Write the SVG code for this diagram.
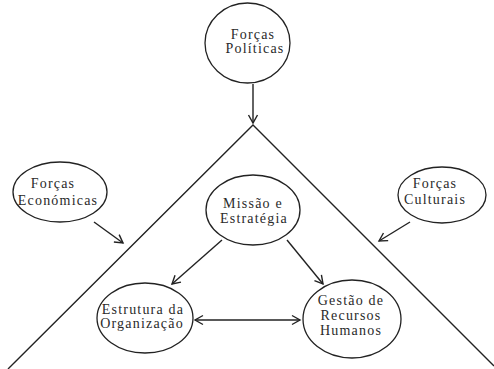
<svg xmlns="http://www.w3.org/2000/svg" width="494" height="369" viewBox="0 0 494 369">
<defs>
<style>
.n{fill:#fff;stroke:#222;stroke-width:1.3}
.t{font-family:"Liberation Serif","Times New Roman",serif;font-size:14px;letter-spacing:1.2px;fill:#2a2a2a;text-anchor:middle}
.c{stroke:#222;stroke-width:1.4;fill:none}
</style>
<marker id="a" markerUnits="userSpaceOnUse" markerWidth="12" markerHeight="12" refX="9" refY="5" orient="auto-start-reverse" viewBox="0 0 12 10">
<path d="M1,0.5 L9,5 L1,9.5" fill="none" stroke="#222" stroke-width="1.4"/>
</marker>
</defs>
<rect width="494" height="369" fill="#fff"/>
<g id="frame"><path class="c" d="M8,369 L253,125 L494,366"/></g>
<g id="connectors">
<line class="c" x1="253" y1="84" x2="253" y2="123" marker-end="url(#a)"/>
<line class="c" x1="94" y1="222" x2="123" y2="243" marker-end="url(#a)"/>
<line class="c" x1="410" y1="222" x2="379" y2="241" marker-end="url(#a)"/>
<line class="c" x1="222" y1="240" x2="172" y2="284" marker-end="url(#a)"/>
<line class="c" x1="287" y1="240" x2="323" y2="284" marker-end="url(#a)"/>
<line class="c" x1="195" y1="320" x2="300" y2="320" marker-start="url(#a)" marker-end="url(#a)"/>
</g>
<g id="politicas"><ellipse class="n" cx="247.5" cy="43" rx="42.5" ry="40"/>
<text class="t"><tspan x="253" y="39">Forças</tspan><tspan x="255" y="53">Políticas</tspan></text></g>
<g id="economicas"><ellipse class="n" cx="60" cy="192" rx="47" ry="30"/>
<text class="t"><tspan x="53" y="188">Forças</tspan><tspan x="58" y="205">Económicas</tspan></text></g>
<g id="culturais"><ellipse class="n" cx="442" cy="195" rx="44" ry="28"/>
<text class="t"><tspan x="435" y="188">Forças</tspan><tspan x="435" y="204">Culturais</tspan></text></g>
<g id="missao"><ellipse class="n" cx="253" cy="210" rx="47" ry="35"/>
<text class="t"><tspan x="253" y="208">Missão e</tspan><tspan x="254" y="223">Estratégia</tspan></text></g>
<g id="estrutura"><ellipse class="n" cx="145" cy="318" rx="48" ry="35"/>
<text class="t"><tspan x="143" y="314">Estrutura da</tspan><tspan x="142" y="328">Organização</tspan></text></g>
<g id="gestao"><ellipse class="n" cx="352" cy="319" rx="49" ry="39"/>
<text class="t"><tspan x="351" y="305">Gestão de</tspan><tspan x="351" y="320">Recursos</tspan><tspan x="351" y="335">Humanos</tspan></text></g>
</svg>
